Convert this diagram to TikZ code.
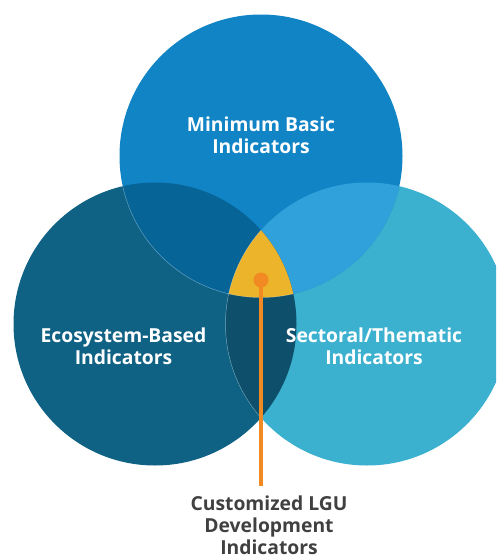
\documentclass[tikz,border=0pt]{standalone}
\usepackage{fontspec}
\setmainfont{Open Sans}
\definecolor{cT}{HTML}{1184C6}
\definecolor{cL}{HTML}{106285}
\definecolor{cR}{HTML}{3BB1CF}
\definecolor{cTL}{HTML}{066497}
\definecolor{cTR}{HTML}{30A1DB}
\definecolor{cLR}{HTML}{0E4F6B}
\definecolor{cY}{HTML}{EBB42A}
\definecolor{cO}{HTML}{F28A24}
\definecolor{cTxt}{HTML}{404040}
\begin{document}
\begin{tikzpicture}[x=1pt,y=-1pt,
  lbl/.style={font=\bfseries\fontsize{19.3}{22}\selectfont, text=white, align=center, inner sep=0pt},
  lbldark/.style={font=\bfseries\fontsize{19.3}{22}\selectfont, text=cTxt, align=center, inner sep=0pt},
  dotnode/.style={circle, fill=cO, minimum size=15pt, inner sep=0pt},
  leader/.style={draw=cO, line width=4.5pt},
  edge/.style={line width=0.5pt, opacity=0.35}]
\useasboundingbox (0,0) rectangle (496,557);
\clip (0,0) rectangle (496,557);
\def\rr{141.5pt}
\coordinate (ct) at (261,156);
\coordinate (cl) at (155,324);
\coordinate (cr) at (367,324);
% base circles
\fill[cL] (cl) circle[radius=\rr];
\fill[cR] (cr) circle[radius=\rr];
\fill[cT] (ct) circle[radius=\rr];
% pairwise overlaps
\begin{scope}
  \clip (ct) circle[radius=\rr];
  \fill[cTL] (cl) circle[radius=\rr];
  \fill[cTR] (cr) circle[radius=\rr];
\end{scope}
\begin{scope}
  \clip (cl) circle[radius=\rr];
  \fill[cLR] (cr) circle[radius=\rr];
\end{scope}
% triple overlap
\begin{scope}
  \clip (ct) circle[radius=\rr];
  \clip (cl) circle[radius=\rr];
  \fill[cY] (cr) circle[radius=\rr];
\end{scope}
% faint edges
\begin{scope}
  \clip (cl) circle[radius=\rr];
  \draw[edge, white] (ct) circle[radius=\rr];
  \draw[edge, white] (cr) circle[radius=\rr];
\end{scope}
% labels
\node[lbl] (mbi) at (261,135) {Minimum Basic\\Indicators};
\node[lbl] (ebi) at (123.5,346) {Ecosystem-Based\\Indicators};
\node[lbl] (sti) at (374,346) {Sectoral/Thematic\\Indicators};
\node[lbldark] (lgu) at (269,525) {Customized LGU\\Development\\Indicators};
% leader
\coordinate (lineend) at (261,486);
\node[dotnode] (dot) at (261,280) {};
\draw[leader] (dot.center) -- (lineend);
\end{tikzpicture}
\end{document}
